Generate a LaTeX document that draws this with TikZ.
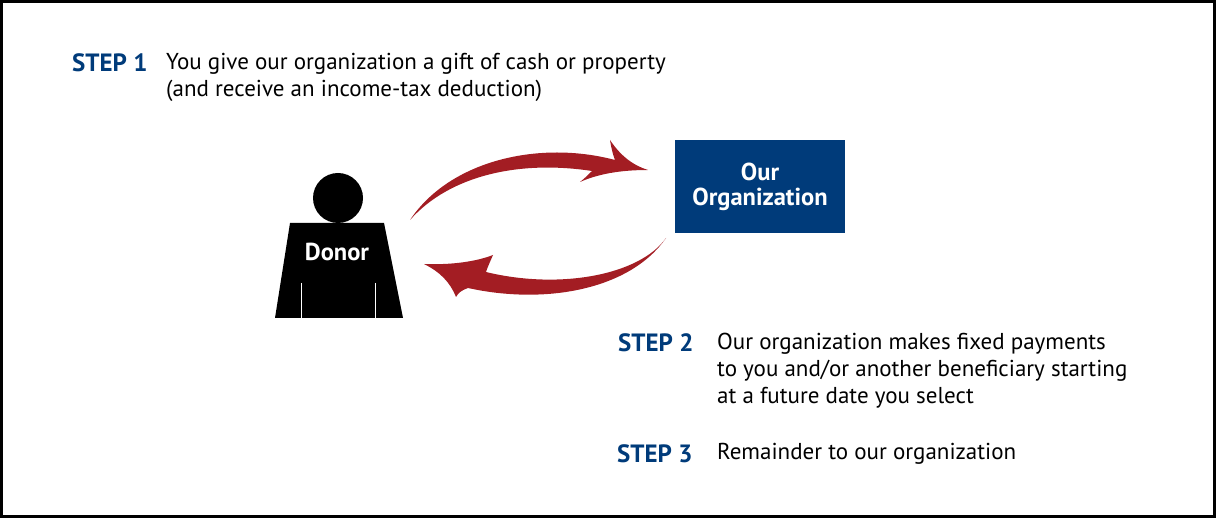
\documentclass[tikz,border=0pt]{standalone}
\usepackage{fontspec}
\setmainfont{PT Sans}
\definecolor{orgblue}{HTML}{003B7A}
\definecolor{arrred}{HTML}{A31D23}
\tikzset{
  steplabel/.style={anchor=base west, inner sep=0pt, text=orgblue, font=\fontsize{25}{28}\selectfont\bfseries},
  desc/.style={anchor=north west, inner sep=0pt, align=left, font=\fontsize{23}{27}\selectfont},
  whitelabel/.style={text=white, font=\fontsize{24.5}{27}\selectfont\bfseries, align=center}
}
\begin{document}
\begin{tikzpicture}[x=1pt,y=-1pt]
\useasboundingbox (0,0) rectangle (1216,518);
\draw[line width=2.5pt] (1.5,1.5) rectangle (1214.5,516.5);
% texts
\node[steplabel] (s1) at (72,72) {STEP 1};
\node[desc] (t1) at (166,53) {You give our organization a gift of cash or property\\(and receive an income-tax deduction)};
\node[steplabel] (s2) at (618,352) {STEP 2};
\node[desc] (t2) at (717,333) {Our organization makes fixed payments\\to you and/or another beneficiary starting\\at a future date you select};
\node[steplabel] (s3) at (617,463) {STEP 3};
\node[desc] (t3) at (717,443) {Remainder to our organization};
% donor
\fill (338,198) circle (25);
\fill (290,223) -- (384,223) -- (403,318) -- (275,318) -- cycle;
\draw[white, line width=0.6pt] (301.5,283) -- (301.5,319) (375,283) -- (375,319);
\node[whitelabel] (donor) at (337,252) {Donor};
% org
\node[fill=orgblue, minimum width=170, minimum height=93, whitelabel, inner sep=0pt] (org) at (760,187) {Our\\[-2pt]Organization};
% arrows
\fill[arrred] (410,220) .. controls (450,160) and (540,140) .. (615,160)
  .. controls (612,152) and (611,146) .. (610,140)
  .. controls (620,155) and (632,165) .. (648,170)
  .. controls (620,170) and (598,174) .. (580,182)
  .. controls (585,178) and (588,175) .. (592,171)
  .. controls (520,160) and (450,175) .. (410,220) -- cycle;
\fill[arrred] (666,238) .. controls (630,290) and (545,305) .. (468,288)
  .. controls (462,290) and (458,293) .. (456,297)
  .. controls (450,282) and (440,272) .. (424,264)
  .. controls (450,265) and (475,262) .. (493,255)
  .. controls (490,262) and (488,266) .. (486,272)
  .. controls (560,290) and (640,275) .. (666,238) -- cycle;
\end{tikzpicture}
\end{document}
